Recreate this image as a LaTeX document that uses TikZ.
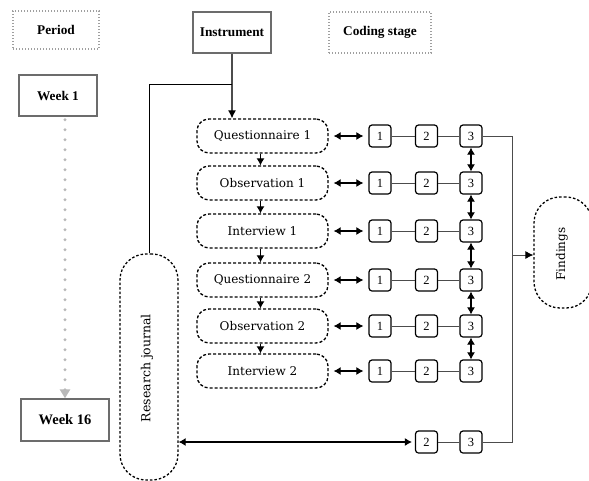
\documentclass[tikz,border=0pt]{standalone}
\usepackage{fontspec}
\setmainfont{Liberation Serif}
\newfontfamily\pillfont{DejaVu Serif}
\usetikzlibrary{arrows.meta,calc}
\begin{document}
\begin{tikzpicture}[x=1pt,y=-1pt,
  hdr/.style={font=\bfseries\fontsize{13.3}{15}\selectfont, inner sep=0pt},
  hdrdot/.style={hdr, draw=gray!75, dash pattern=on 1.2pt off 1.8pt, line width=1.1pt},
  hdrsolid/.style={hdr, draw=gray!85!black, line width=1.3pt},
  pill/.style={draw, dash pattern=on 3pt off 2pt, line width=1.3pt, rounded corners=12pt,
    minimum width=131pt, minimum height=34pt, inner sep=0pt,
    font=\pillfont\fontsize{12}{14}\selectfont},
  tallpill/.style={draw, dash pattern=on 2.5pt off 2pt, line width=1.3pt, rounded corners=26pt,
    minimum width=58pt, inner sep=0pt},
  cbox/.style={draw, line width=1.2pt, rounded corners=3pt, minimum size=22pt, inner sep=0pt,
    font=\fontsize{12.5}{14}\selectfont},
  dbl/.style={{Latex[length=7pt,width=8pt]}-{Latex[length=7pt,width=8pt]}, line width=1.1pt},
  link/.style={gray!60!black, line width=0.8pt}
]
\useasboundingbox (0,0) rectangle (589,480);

% headers
\node[hdrdot, minimum width=86pt, minimum height=38pt] (per) at (56,30) {Period};
\node[hdrsolid, minimum width=78pt, minimum height=41pt] (ins) at (232,32.5) {Instrument};
\node[hdrdot, minimum width=102pt, minimum height=41pt] (cod) at (380,32.5) {Coding stage};
\node[hdrsolid, minimum width=78pt, minimum height=41pt] (w1) at (58,95.5) {Week 1};
\node[hdrsolid, minimum width=88pt, minimum height=42pt, font=\bfseries\fontsize{14.5}{16}\selectfont] (w16) at (65,420) {Week 16};

% period arrow
\draw[gray!55, line width=3.2pt, line cap=round, dash pattern=on 0pt off 10pt,
  -{Triangle[length=9pt,width=10pt,fill=gray!55]}]
  (w16.north |- w1.south) ++(0,3) -- (w16.north);

% instruments
\node[pill] (r1) at (262.5,136) {Questionnaire 1};
\node[pill] (r2) at (262.5,183) {Observation 1};
\node[pill] (r3) at (262.5,231) {Interview 1};
\node[pill] (r4) at (262.5,280) {Questionnaire 2};
\node[pill] (r5) at (262.5,326) {Observation 2};
\node[pill] (r6) at (262.5,371) {Interview 2};

% research journal and findings
\node[tallpill, minimum height=226pt] (rj) at (149,367) {};
\node[rotate=90, font=\pillfont\fontsize{12.5}{14}\selectfont] (rjt) at (147,368) {Research journal};
\node[tallpill, minimum height=111pt] (fin) at (563,252.5) {};
\node[rotate=90, font=\pillfont\fontsize{12}{14}\selectfont] (fint) at (562,254) {Findings};

% coding boxes
\foreach \r/\y in {1/136,2/183,3/231,4/280,5/326,6/371}{
  \node[cbox] (b\r1) at (380,\y) {1};
  \node[cbox] (b\r2) at (426.5,\y) {2};
  \node[cbox] (b\r3) at (471,\y) {3};
  \draw[link] (b\r1) -- (b\r2);
  \draw[link] (b\r2) -- (b\r3);
  \draw[dbl, shorten <=5pt, shorten >=5pt] (r\r.east) -- (b\r1.west);
}
\node[cbox] (b72) at (426.5,442) {2};
\node[cbox] (b73) at (471,442) {3};
\draw[link] (b72) -- (b73);

% vertical links between instruments
\foreach \a/\b in {1/2,2/3,3/4,4/5,5/6}{
  \draw[line width=1.1pt, -{Latex[length=7pt,width=8pt]}] ($(r\a.south)+(-2,0)$) -- ($(r\b.north)+(-2,0)$);
  \draw[dbl] (b\a3.south) -- (b\b3.north);
}

% instrument arrow and branch
\draw[gray!60!black, line width=1.1pt, -{Latex[length=8pt,width=8pt,black]}] (ins.south) -- (ins.south |- r1.north);
\coordinate (br) at ($(ins.south)+(0,31)$);
\draw[line width=0.8pt] (br) -| (rj.north);

% right bus to findings
\coordinate (bus) at ($(b13.east)+(30,0)$);
\draw[link] (b13.east) -- (bus) |- (b73.east);
\draw[link, -{Latex[length=8pt,width=8pt,black]}] (bus |- 0,255) -- (fin.west |- 0,255);

% research journal to bottom row
\draw[dbl, shorten >=3pt] (rj.east |- b72) -- (b72.west);
\end{tikzpicture}
\end{document}
